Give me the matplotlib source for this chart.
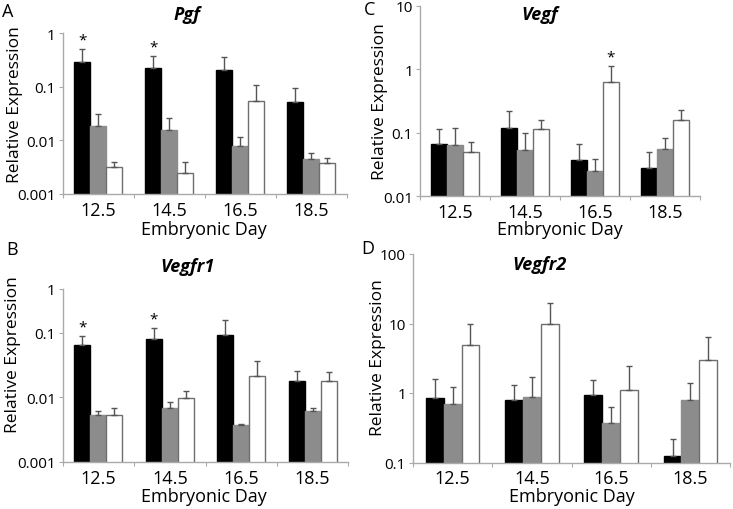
import matplotlib.pyplot as plt
import numpy as np

plt.rcParams['font.family'] = ['Open Sans', 'DejaVu Sans']

days = ['12.5', '14.5', '16.5', '18.5']

# Pgf (A)
pgf_black = [0.285, 0.223, 0.208, 0.052]
pgf_black_err = [0.22, 0.145, 0.145, 0.044]
pgf_gray = [0.0184, 0.0155, 0.0077, 0.0044]
pgf_gray_err = [0.0124, 0.0104, 0.0039, 0.0014]
pgf_white = [0.0032, 0.0025, 0.055, 0.0038]
pgf_white_err = [0.0008, 0.0014, 0.054, 0.0009]

# Vegfr1 (B)
vegfr1_black = [0.066, 0.080, 0.094, 0.0178]
vegfr1_black_err = [0.025, 0.041, 0.064, 0.0082]
vegfr1_gray = [0.0054, 0.0068, 0.0037, 0.0061]
vegfr1_gray_err = [0.0008, 0.0018, 0.0001, 0.0006]
vegfr1_white = [0.0053, 0.0097, 0.0215, 0.0178]
vegfr1_white_err = [0.0014, 0.003, 0.0157, 0.0073]

# Vegf (C)
vegf_black = [0.0665, 0.119, 0.0368, 0.0283]
vegf_black_err = [0.0485, 0.098, 0.0298, 0.0221]
vegf_gray = [0.065, 0.0536, 0.0253, 0.0549]
vegf_gray_err = [0.052, 0.0444, 0.0129, 0.0279]
vegf_white = [0.0492, 0.113, 0.622, 0.157]
vegf_white_err = [0.0216, 0.044, 0.498, 0.071]

# Vegfr2 (D)
vegfr2_black = [0.85, 0.78, 0.94, 0.124]
vegfr2_black_err = [0.74, 0.54, 0.62, 0.096]
vegfr2_gray = [0.70, 0.88, 0.37, 0.78]
vegfr2_gray_err = [0.53, 0.84, 0.26, 0.61]
vegfr2_white = [4.96, 9.7, 1.12, 3.02]
vegfr2_white_err = [4.99, 10.2, 1.35, 3.45]

W, H = 733, 510


def px(x, y):
    # pixel (top-left origin) -> figure fraction
    return x / W, 1 - y / H


def draw_panel(rect, black, black_err, gray, gray_err, white, white_err,
               ylim, yticks, yticklabels, stars):
    x0, y0, x1, y1 = rect
    ax = fig.add_axes([x0 / W, 1 - y1 / H, (x1 - x0) / W, (y1 - y0) / H])
    x = np.arange(len(days))
    bw = 0.225
    series = [(black, black_err, 'black', 'black'),
              (gray, gray_err, '#8c8c8c', '#8c8c8c'),
              (white, white_err, 'white', '#6e6e6e')]
    for i, (vals, err, fc, ec) in enumerate(series):
        xs = x + (i - 1) * bw
        ax.bar(xs, vals, bw, color=fc, edgecolor=ec, linewidth=1.0, zorder=2)
        ax.errorbar(xs, vals, yerr=[np.zeros(len(vals)), err], fmt='none',
                    ecolor='#555555', elinewidth=1.0, capsize=2, capthick=1.0, zorder=3)
    for d, s in stars:
        vals, err = series[s][0], series[s][1]
        ax.annotate('*', xy=(x[d] + (s - 1) * bw, vals[d] + err[d]),
                    xytext=(0, 1), textcoords='offset points',
                    ha='center', va='bottom', fontsize=11, color='black')
    ax.set_yscale('log')
    ax.set_ylim(*ylim)
    ax.set_xlim(-0.5, len(days) - 0.5)
    ax.set_yticks(yticks)
    ax.set_yticklabels(yticklabels, fontsize=11)
    ax.yaxis.set_minor_locator(plt.NullLocator())
    ax.set_xticks(np.arange(len(days) + 1) - 0.5)
    ax.set_xticklabels([])
    ax.set_xticks(x, minor=True)
    ax.set_xticklabels(days, minor=True, fontsize=13)
    ax.tick_params(axis='x', which='minor', length=0, pad=5)
    ax.tick_params(axis='x', which='major', length=3, color='#aaaaaa')
    ax.tick_params(axis='y', length=3, color='#aaaaaa', pad=2)
    for sp in ['top', 'right']:
        ax.spines[sp].set_visible(False)
    for sp in ['left', 'bottom']:
        ax.spines[sp].set_color('#aaaaaa')
        ax.spines[sp].set_linewidth(1.0)
    return ax


fig = plt.figure(figsize=(7.33, 5.10), dpi=100)

draw_panel((62.7, 34, 346.7, 195), pgf_black, pgf_black_err, pgf_gray, pgf_gray_err,
           pgf_white, pgf_white_err, (0.001, 1), [0.001, 0.01, 0.1, 1],
           ['0.001', '0.01', '0.1', '1'], [(0, 0), (1, 0)])
draw_panel((62.7, 290, 348.3, 462.7), vegfr1_black, vegfr1_black_err, vegfr1_gray,
           vegfr1_gray_err, vegfr1_white, vegfr1_white_err, (0.001, 0.48),
           [0.001, 0.01, 0.1, 0.48], ['0.001', '0.01', '0.1', '1'], [(0, 0), (1, 0)])
draw_panel((420, 6.7, 700, 197.3), vegf_black, vegf_black_err, vegf_gray, vegf_gray_err,
           vegf_white, vegf_white_err, (0.01, 10), [0.01, 0.1, 1, 10],
           ['0.01', '0.1', '1', '10'], [(2, 2)])
draw_panel((413, 255, 730, 463.5), vegfr2_black, vegfr2_black_err, vegfr2_gray,
           vegfr2_gray_err, vegfr2_white, vegfr2_white_err, (0.1, 100),
           [0.1, 1, 10, 100], ['0.1', '1', '10', '100'], [])

# panel letters
for lab, (lx, ly) in [('A', (8, 12)), ('B', (11.7, 250)), ('C', (370, 10)), ('D', (368, 249))]:
    fig.text(*px(lx, ly), lab, fontsize=13, ha='center', va='center')

# gene titles
for t, (tx, ty) in [('Pgf', (187, 15)), ('Vegfr1', (187, 267)), ('Vegf', (540, 15)), ('Vegfr2', (540, 265))]:
    fig.text(*px(tx, ty), t, fontsize=13, fontweight='bold', style='italic',
             ha='center', va='center')

# axis labels
for xx, yy in [(204, 230), (204, 497), (560, 230), (572, 497)]:
    fig.text(*px(xx, yy), 'Embryonic Day', fontsize=13, ha='center', va='center')
for xx, yy in [(15, 105), (13, 355), (380, 102), (378, 358)]:
    fig.text(*px(xx, yy), 'Relative Expression', fontsize=12.5, rotation=90,
             ha='center', va='center')

fig.savefig('out.png', dpi=100)
